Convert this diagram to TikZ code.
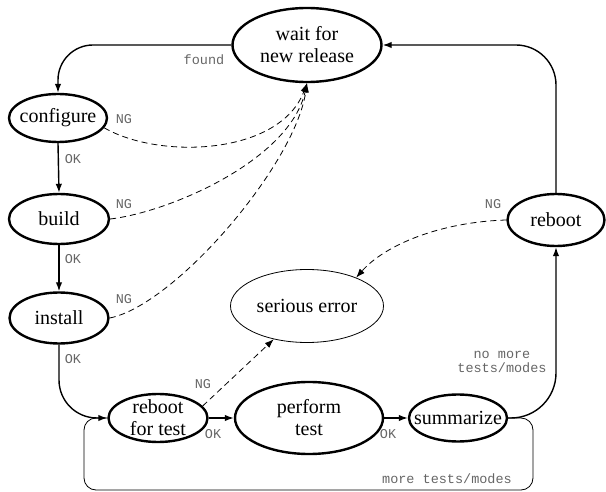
\documentclass[tikz,border=0pt]{standalone}
\usepackage{fontspec}
\setmainfont{Liberation Serif}
\setmonofont{Liberation Mono}
\usetikzlibrary{shapes.geometric,arrows.meta}
\begin{document}
\begin{tikzpicture}[x=1pt,y=-1pt,
  st/.style={ellipse, draw, line width=2.4pt, inner sep=0pt},
  thinst/.style={ellipse, draw, line width=0.8pt, inner sep=0pt},
  nt/.style={font=\fontsize{20}{22}\selectfont, align=center, inner sep=0pt},
  lab/.style={font=\fontsize{13.5}{14}\ttfamily, text=black!60, inner sep=0pt, align=center},
  edge/.style={line width=1.4pt, -{Latex[length=9pt,width=6.5pt]}},
  ng/.style={line width=0.8pt, dash pattern=on 6pt off 4pt, -{Latex[length=9pt,width=6.5pt]}},
  loopline/.style={line width=0.8pt}]
\path[use as bounding box] (0,0) rectangle (606,492);

\node[st, minimum width=149, minimum height=74, label={[nt]center:{wait for\\new release}}] (wait) at (307,45) {};
\node[st, minimum width=98, minimum height=48, label={[nt]center:configure}] (configure) at (58,118) {};
\node[st, minimum width=100, minimum height=50, label={[nt]center:build}] (build) at (59,219) {};
\node[st, minimum width=99, minimum height=51, label={[nt]center:install}] (install) at (59,318) {};
\node[st, minimum width=97, minimum height=52, label={[nt]center:reboot}] (reboot) at (556,220) {};
\node[thinst, minimum width=153, minimum height=73, label={[nt]center:serious error}] (serious) at (307,306) {};
\node[st, minimum width=99, minimum height=48, label={[nt]center:{reboot\\for test}}] (rft) at (158,418) {};
\node[st, minimum width=148, minimum height=72, label={[nt]center:{perform\\test}}] (perform) at (309,418) {};
\node[st, minimum width=98, minimum height=47, label={[nt]center:summarize}] (summ) at (458,418) {};

\coordinate (lr) at (533,490);
\coordinate (ll) at (84,490);

% solid edges
\draw[edge, rounded corners=35pt] (wait.west) -| (configure.north);
\draw[edge, rounded corners=40pt] (reboot.north) |- (wait.east);
\draw[edge] (configure.south) -- (build.north);
\draw[edge] (build.south) -- (install.north);
\draw[edge, rounded corners=38pt] (install.south) |- (rft.west);
\draw[edge] (rft.east) -- (perform.west);
\draw[edge] (perform.east) -- (summ.west);
\draw[edge, rounded corners=45pt] (summ.east) -| (reboot.south);
\draw[loopline, rounded corners=12pt] (summ.east) -| (lr) -- (ll) |- (rft.west);

% dashed edges
\draw[ng] (configure.-12) .. controls (160,160) and (280,155) .. (wait.south);
\draw[ng] (build.east) .. controls (170,212) and (290,160) .. (wait.south);
\draw[ng] (install.east) .. controls (175,305) and (295,165) .. (wait.south);
\draw[ng] (reboot.west) .. controls (440,222) and (385,245) .. (serious.30);
\draw[ng] (rft.15) -- (serious.-135);

% labels
\node[lab] (lfound) at (204,60) {found};
\node[lab] (lng1) at (124,119) {NG};
\node[lab] (lng2) at (124,204) {NG};
\node[lab] (lng3) at (124,299) {NG};
\node[lab] (lng4) at (493,204) {NG};
\node[lab] (lng5) at (203,384) {NG};
\node[lab] (lok1) at (73,159) {OK};
\node[lab] (lok2) at (73,259) {OK};
\node[lab] (lok3) at (73,359) {OK};
\node[lab] (lok4) at (213,434) {OK};
\node[lab] (lok5) at (388,434) {OK};
\node[lab] (lnomore) at (502,362) {no more\\tests/modes};
\node[lab] (lmore) at (447,479) {more tests/modes};
\end{tikzpicture}
\end{document}
